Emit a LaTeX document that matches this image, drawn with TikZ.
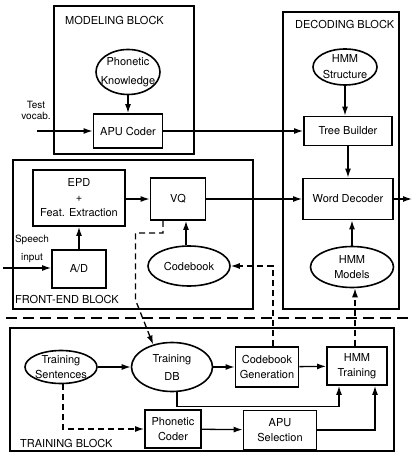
\documentclass[tikz,border=0pt]{standalone}
\usepackage{fontspec}
\setmainfont{TeX Gyre Heros}
\usetikzlibrary{shapes.geometric, arrows.meta}

\begin{document}
\begin{tikzpicture}[x=1pt,y=-1pt,
    font=\fontsize{11}{15}\selectfont,
    box/.style 2 args={draw, line width=1.8pt, minimum width=#1, minimum height=#2, inner sep=0pt, align=center},
    oval/.style 2 args={draw, ellipse, line width=1.6pt, minimum width=#1, minimum height=#2, inner sep=0pt},
    oname/.style={align=center, inner sep=0pt},
    blockframe/.style={draw, line width=1.1pt},
    blocklbl/.style={anchor=west, inner sep=0pt},
    arr/.style={line width=1.3pt, -{Latex[length=9pt,width=6pt]}},
    dline/.style={arr, dash pattern=on 6pt off 4pt},
    sepline/.style={line width=2.4pt, dash pattern=on 11pt off 6pt}]
\useasboundingbox (0,0) rectangle (412,454);

% the four blocks
\draw[blockframe] (54,6) rectangle (194,154);
\draw[blockframe] (283,12) rectangle (399,309);
\draw[blockframe] (13,160) rectangle (253,309);
\draw[blockframe] (10,328) rectangle (394,451);
\draw[sepline] (6,318) -- (412,318);

\node[blocklbl] (modlbl) at (65,20) {MODELING BLOCK};
\node[blocklbl] (declbl) at (295,24) {DECODING BLOCK};
\node[blocklbl] (felbl) at (15,299) {FRONT-END BLOCK};
\node[blocklbl] (trlbl) at (20,443) {TRAINING BLOCK};

% modeling
\node[oval={64}{45}, label={[oname,font=\fontsize{11}{19}\selectfont]center:Phonetic\\Knowledge}] (phonknow) at (128,72) {};
\node[box={69}{34}] (apucoder) at (128,131) {APU Coder};
\coordinate (tvin) at (37,131);
\node[align=center, font=\fontsize{10}{11}\selectfont] (tvlbl) at (36,110) {Test\\vocab.};

% decoding
\node[oval={64}{36}, label={[oname,font=\fontsize{11}{16}\selectfont]center:HMM\\Structure}] (hmmstruct) at (345,67) {};
\node[box={88}{29}] (treebuild) at (348,131) {Tree Builder};
\node[box={90}{41}] (worddec) at (348,199) {Word Decoder};
\node[oval={83}{41}, label={[oname]center:HMM\\Models}] (hmmmodels) at (352,267) {};
\coordinate (decout) at (412,199);

% front-end
\node[box={92}{56}] (epd) at (79,198) {EPD\\+\\Feat. Extraction};
\node[box={55}{42}] (vq) at (178,199) {VQ};
\node[box={54}{38}] (ad) at (79,269) {A/D};
\node[oval={82}{40}, label={[oname]center:Codebook}] (codebook) at (189,266) {};
\coordinate (spin) at (3,268);
\node[align=center, font=\fontsize{10}{18}\selectfont] (splbl) at (32,249) {Speech\\input};

% training
\node[oval={72}{33}, label={[oname]center:Training\\Sentences}] (trainsent) at (61,367) {};
\node[oval={81}{49}, label={[oname,font=\fontsize{11}{18}\selectfont]center:Training\\DB}] (traindb) at (172,367) {};
\node[box={63}{40}] (cbgen) at (267,367) {Codebook\\Generation};
\node[box={60}{38}] (hmmtrain) at (357,366) {HMM\\Training};
\node[box={56}{38}] (phoncoder) at (173,429) {Phonetic\\Coder};
\node[box={73}{39}] (apusel) at (280,430) {APU\\Selection};

% connectors
\draw[arr] (tvin) -- (apucoder);
\draw[arr] (phonknow.south) -- (apucoder.north);
\draw[arr] (apucoder) -- (treebuild);
\draw[arr] (hmmstruct.south) -- (hmmstruct.south |- treebuild.north);
\draw[arr] (treebuild) -- (worddec);
\draw[arr] (hmmmodels.north) -- (hmmmodels.north |- worddec.south);
\draw[arr] (worddec) -- (decout);
\draw[arr] (spin) -- (spin -| ad.west);
\draw[arr] (ad) -- (epd);
\draw[arr] (epd.east |- vq) -- (vq);
\draw[arr] (vq) -- (vq -| worddec.west);
\draw[arr] ([xshift=-3pt]codebook.north) -- ([xshift=-3pt]codebook.north |- vq.south);
\draw[dline] ([xshift=-15pt]vq.south) -- ++(0,12) -| (135.5,300) -- (traindb.130);
\draw[dline] ([xshift=6pt]cbgen.north) |- (codebook.east);
\draw[dline] ([xshift=-2pt]hmmtrain.north) -- ([xshift=-2pt]hmmtrain.north |- hmmmodels.south);
\draw[arr] (trainsent) -- (traindb);
\draw[arr] (traindb) -- (cbgen);
\draw[arr] (cbgen) -- (hmmtrain);
\draw[arr] ([xshift=5pt]traindb.south) -- ++(0,14) -| ([xshift=-18pt]hmmtrain.south);
\draw[arr] (phoncoder) -- (apusel);
\draw[arr] (apusel.east) -| ([xshift=18pt]hmmtrain.south);
\draw[dline] ([xshift=2pt]trainsent.south) |- (phoncoder.west);
\end{tikzpicture}
\end{document}
